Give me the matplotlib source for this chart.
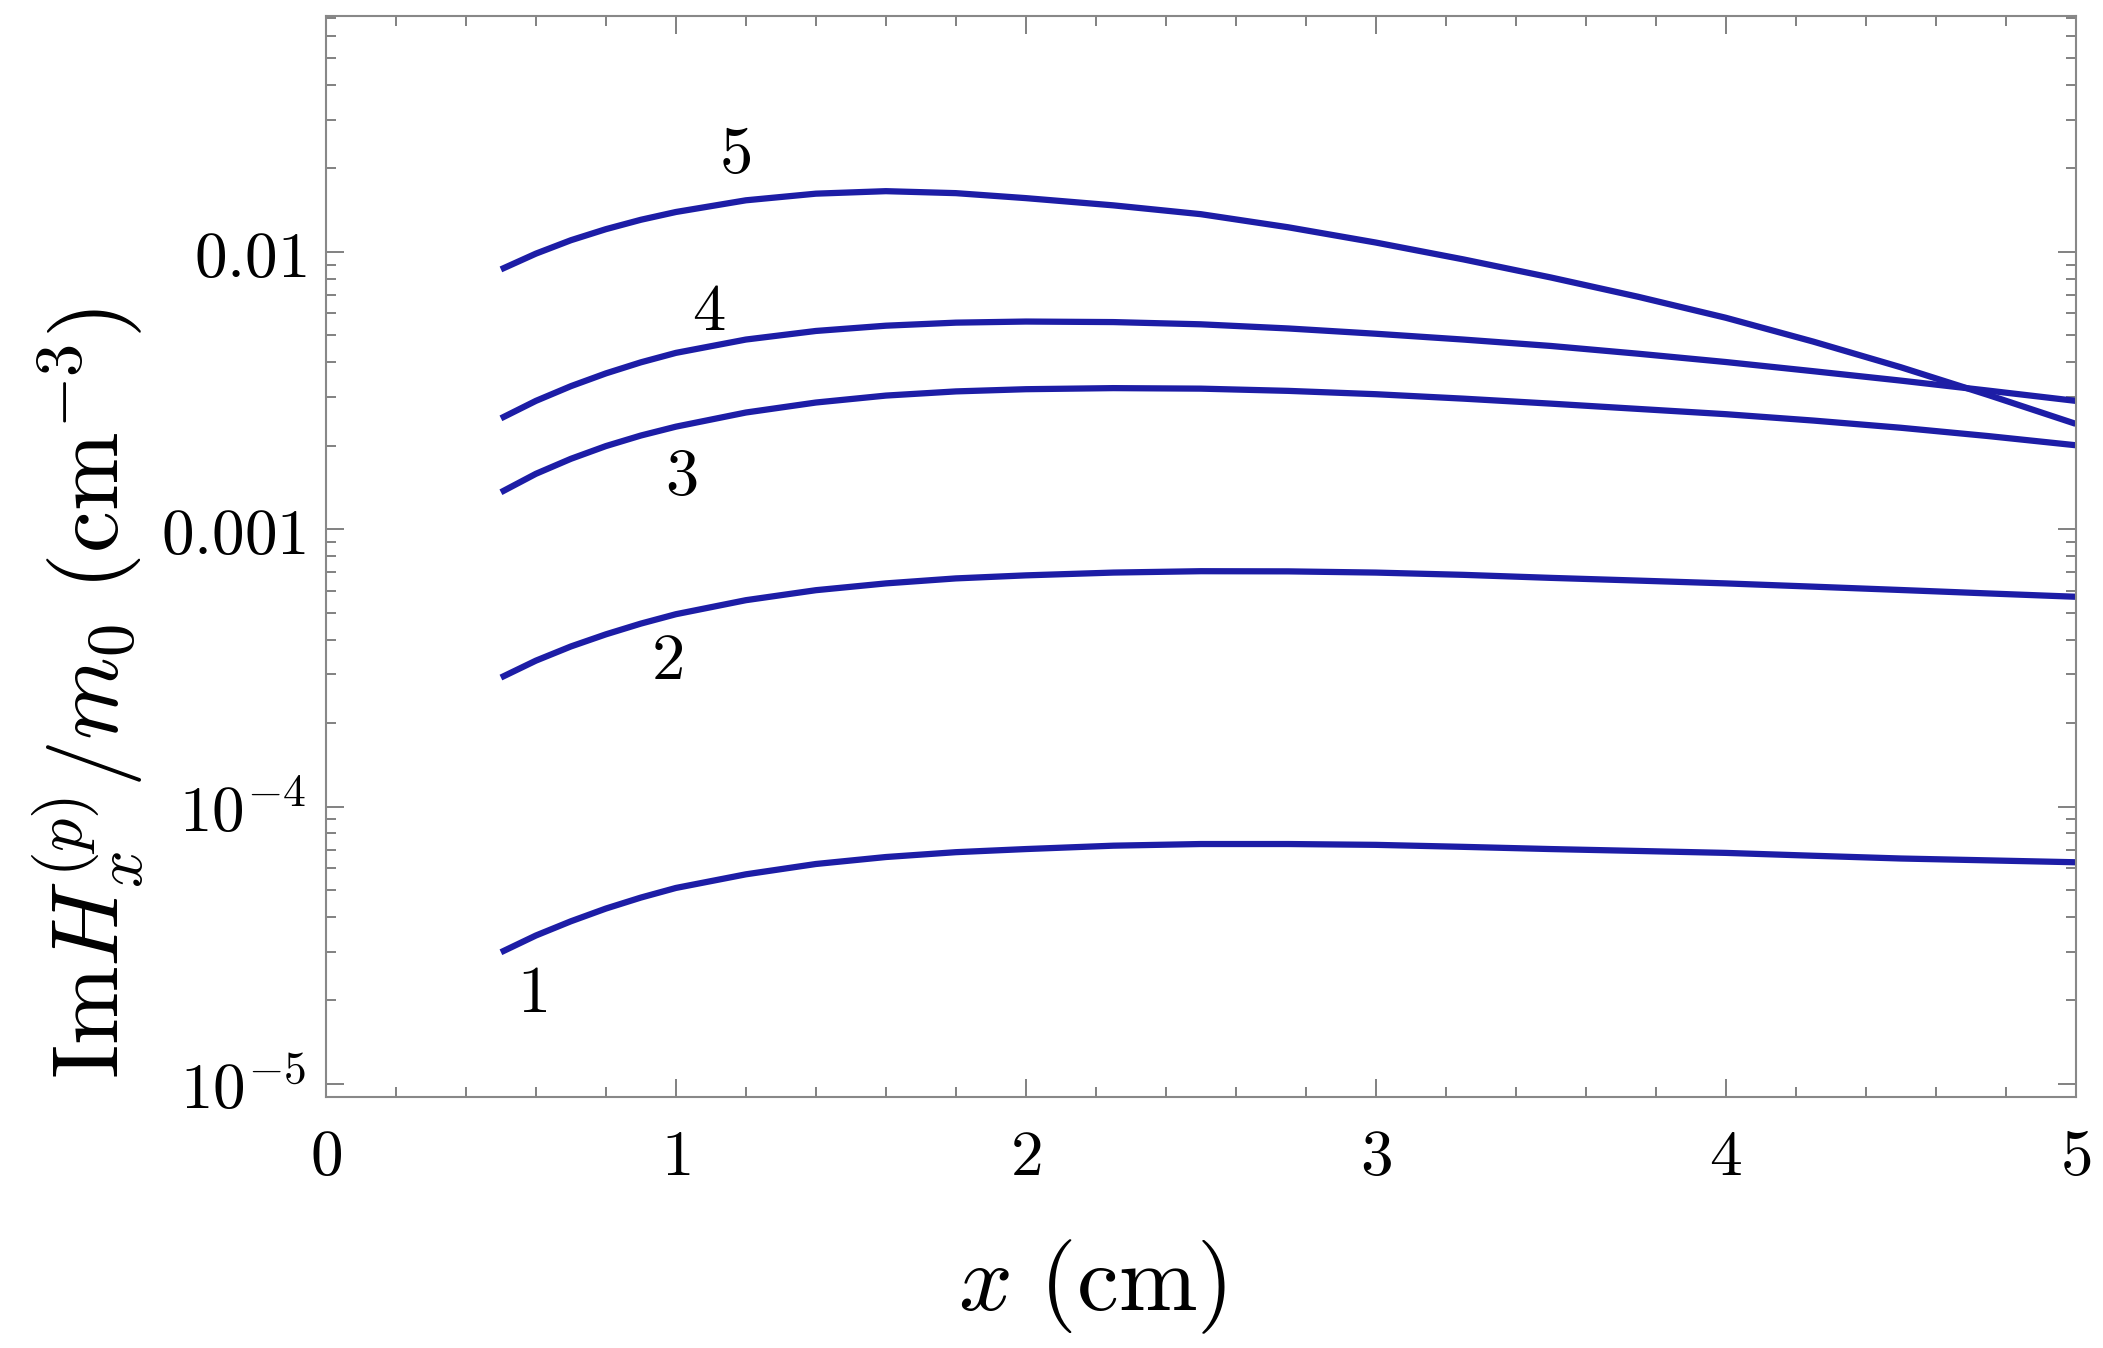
import numpy as np
import matplotlib.pyplot as plt
from matplotlib.ticker import FixedLocator, FixedFormatter, LogLocator, MultipleLocator, NullFormatter

plt.rcParams['mathtext.fontset'] = 'cm'
plt.rcParams['font.family'] = 'serif'
plt.rcParams['font.serif'] = ['DejaVu Serif']

x = [0.5, 0.6, 0.7, 0.8, 0.9, 1.0, 1.2, 1.4, 1.6, 1.8, 2.0, 2.25, 2.5, 2.75,
     3.0, 3.25, 3.5, 3.75, 4.0, 4.25, 4.5, 4.75, 5.0]

curve1 = [2.985e-5, 3.43e-5, 3.86e-5, 4.29e-5, 4.70e-5, 5.09e-5, 5.70e-5, 6.21e-5,
          6.58e-5, 6.85e-5, 7.03e-5, 7.23e-5, 7.33e-5, 7.33e-5, 7.28e-5, 7.16e-5,
          7.03e-5, 6.92e-5, 6.81e-5, 6.65e-5, 6.50e-5, 6.40e-5, 6.30e-5]
curve2 = [2.92e-4, 3.36e-4, 3.78e-4, 4.18e-4, 4.57e-4, 4.94e-4, 5.55e-4, 6.03e-4,
          6.38e-4, 6.65e-4, 6.82e-4, 6.98e-4, 7.06e-4, 7.05e-4, 6.98e-4, 6.85e-4,
          6.68e-4, 6.53e-4, 6.38e-4, 6.21e-4, 6.04e-4, 5.87e-4, 5.71e-4]
curve3 = [1.360e-3, 1.585e-3, 1.795e-3, 1.995e-3, 2.178e-3, 2.344e-3, 2.636e-3, 2.864e-3,
          3.034e-3, 3.141e-3, 3.199e-3, 3.228e-3, 3.214e-3, 3.155e-3, 3.069e-3, 2.958e-3,
          2.838e-3, 2.716e-3, 2.600e-3, 2.466e-3, 2.323e-3, 2.168e-3, 2.009e-3]
curve4 = [2.512e-3, 2.904e-3, 3.281e-3, 3.648e-3, 3.999e-3, 4.325e-3, 4.831e-3, 5.188e-3,
          5.420e-3, 5.559e-3, 5.610e-3, 5.585e-3, 5.483e-3, 5.297e-3, 5.070e-3, 4.831e-3,
          4.581e-3, 4.295e-3, 4.009e-3, 3.715e-3, 3.436e-3, 3.162e-3, 2.904e-3]
curve5 = [8.65e-3, 9.86e-3, 1.102e-2, 1.208e-2, 1.306e-2, 1.393e-2, 1.535e-2, 1.622e-2,
          1.656e-2, 1.629e-2, 1.563e-2, 1.472e-2, 1.368e-2, 1.227e-2, 1.081e-2, 9.40e-3,
          8.09e-3, 6.89e-3, 5.79e-3, 4.75e-3, 3.84e-3, 3.05e-3, 2.40e-3]

curves = [curve1, curve2, curve3, curve4, curve5]
labels = ['1', '2', '3', '4', '5']
label_x = [0.59, 0.975, 1.015, 1.095, 1.17]
label_y = [2.13e-5, 3.38e-4, 1.556e-3, 6.12e-3, 2.25e-2]

ytick_vals = [1e-5, 1e-4, 1e-3, 1e-2]
ytick_text = [r'$10^{-5}$', r'$10^{-4}$', r'$0.001$', r'$0.01$']
xtick_vals = [0, 1, 2, 3, 4, 5]
xtick_text = [r'$0$', r'$1$', r'$2$', r'$3$', r'$4$', r'$5$']

fig = plt.figure(figsize=(21.03, 13.48), dpi=100)
ax = fig.add_axes([0.155, 0.186, 0.832, 0.802])

for c in curves:
    ax.plot(x, c, color='#1d1da6', lw=4.5, solid_capstyle='butt', solid_joinstyle='round')

for lx, ly, t in zip(label_x, label_y, labels):
    ax.text(lx, ly, r'$%s$' % t, fontsize=48, ha='center', va='center')

ax.set_yscale('log')
ax.set_xlim(0, 5)
ax.set_ylim(10**-5.048, 10**-1.15)

ax.xaxis.set_major_locator(FixedLocator(xtick_vals))
ax.xaxis.set_major_formatter(FixedFormatter(xtick_text))
ax.xaxis.set_minor_locator(MultipleLocator(0.2))
ax.yaxis.set_major_locator(FixedLocator(ytick_vals))
ax.yaxis.set_major_formatter(FixedFormatter(ytick_text))
ax.yaxis.set_minor_locator(LogLocator(base=10, subs=np.arange(2, 10)))
ax.yaxis.set_minor_formatter(NullFormatter())

ax.tick_params(which='both', direction='in', top=True, right=True, color='#777777', width=1.3)
ax.tick_params(which='major', length=13, labelsize=47)
ax.tick_params(which='minor', length=7)
ax.tick_params(axis='x', which='major', pad=20)
ax.tick_params(axis='y', which='major', pad=14)

for s in ax.spines.values():
    s.set_color('#888888')
    s.set_linewidth(1.5)

ax.set_xlabel(r'$x\ (\mathrm{cm})$', fontsize=68)
ax.set_ylabel(r'$\mathrm{Im}H_x^{(p)}/m_0\ (\mathrm{cm}^{-3})$', fontsize=68)
ax.xaxis.set_label_coords(0.438, -0.13)
ax.yaxis.set_label_coords(-0.103, 0.373)

fig.savefig('out.png', dpi=100)
